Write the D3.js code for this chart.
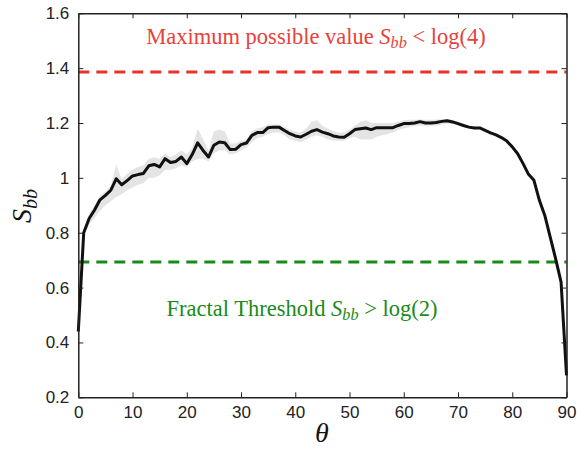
<!DOCTYPE html>
<html>
<head>
<meta charset="utf-8">
<script src="https://cdn.jsdelivr.net/npm/d3@7"></script>
<style>
  html, body { margin: 0; padding: 0; background: #fff; }
  svg { display: block; }
</style>
</head>
<body>
<svg id="chart" width="577" height="450"></svg>
<script>
// Angle θ (degrees) and box-counting entropy S_bb
const theta = d3.range(0, 91);
const sbbMean = [
  0.44, 0.80, 0.852, 0.883, 0.92, 0.936, 0.955, 0.997, 0.975, 0.99,
  1.007, 1.012, 1.016, 1.044, 1.049, 1.04, 1.07, 1.056, 1.06, 1.076,
  1.052, 1.085, 1.128, 1.10, 1.076, 1.119, 1.131, 1.128, 1.103, 1.104,
  1.121, 1.127, 1.155, 1.165, 1.165, 1.183, 1.185, 1.185, 1.173, 1.161,
  1.153, 1.149, 1.159, 1.17, 1.176, 1.167, 1.161, 1.153, 1.149, 1.148,
  1.161, 1.176, 1.179, 1.182, 1.176, 1.183, 1.183, 1.183, 1.183, 1.191,
  1.198, 1.198, 1.20, 1.205, 1.20, 1.20, 1.202, 1.206, 1.208, 1.204,
  1.198, 1.191, 1.185, 1.182, 1.182, 1.173, 1.164, 1.157, 1.147, 1.134,
  1.113, 1.088, 1.052, 1.013, 0.991, 0.918, 0.863, 0.784, 0.705, 0.620,
  0.28
];
const sbbLower = [
  0.44, 0.79, 0.83, 0.855, 0.88, 0.90, 0.915, 0.93, 0.94, 0.955,
  0.965, 0.975, 0.98, 1.0, 1.0, 1.01, 1.03, 1.03, 1.035, 1.045,
  1.04, 1.06, 1.07, 1.07, 1.06, 1.09, 1.10, 1.10, 1.085, 1.09,
  1.10, 1.11, 1.13, 1.145, 1.15, 1.16, 1.165, 1.165, 1.155, 1.14,
  1.135, 1.13, 1.14, 1.15, 1.155, 1.15, 1.14, 1.135, 1.135, 1.135,
  1.145, 1.15, 1.14, 1.14, 1.14, 1.15, 1.155, 1.16, 1.165, 1.175,
  1.18, 1.185, 1.19, 1.19, 1.19, 1.19, 1.19, 1.195, 1.198, 1.196,
  1.19, 1.185, 1.18, 1.177, 1.177, 1.169, 1.16, 1.153, 1.143, 1.13,
  1.11, 1.085, 1.05, 1.01, 0.988, 0.915, 0.86, 0.781, 0.702, 0.617,
  0.28
];
const sbbUpper = [
  0.44, 0.81, 0.87, 0.90, 0.935, 0.95, 0.97, 1.05, 0.995, 1.015,
  1.03, 1.04, 1.045, 1.07, 1.075, 1.07, 1.09, 1.075, 1.085, 1.10,
  1.085, 1.11, 1.18, 1.14, 1.10, 1.17, 1.175, 1.17, 1.125, 1.125,
  1.135, 1.14, 1.17, 1.18, 1.185, 1.195, 1.195, 1.195, 1.185, 1.175,
  1.17, 1.165, 1.18, 1.205, 1.21, 1.19, 1.18, 1.17, 1.165, 1.165,
  1.175, 1.19, 1.205, 1.21, 1.20, 1.20, 1.20, 1.20, 1.20, 1.205,
  1.21, 1.212, 1.212, 1.214, 1.212, 1.212, 1.213, 1.214, 1.215, 1.212,
  1.205, 1.197, 1.19, 1.187, 1.187, 1.177, 1.168, 1.161, 1.151, 1.138,
  1.116, 1.091, 1.055, 1.016, 0.994, 0.921, 0.866, 0.787, 0.708, 0.623,
  0.28
];

// Reference levels
const maxLevel = Math.log(4);
const fractalLevel = Math.log(2);

const xTicks = [0, 10, 20, 30, 40, 50, 60, 70, 80, 90];
const yTicks = [0.2, 0.4, 0.6, 0.8, 1.0, 1.2, 1.4, 1.6];
const yTickLabels = ["0.2", "0.4", "0.6", "0.8", "1", "1.2", "1.4", "1.6"];

const svg = d3.select("#chart");
const plotLeft = 78.3, plotRight = 566.5, plotTop = 13.3, plotBottom = 397.3;

const x = d3.scaleLinear().domain([0, 90]).range([plotLeft, plotRight]);
const y = d3.scaleLinear().domain([0.2, 1.6]).range([plotBottom, plotTop]);

const pts = theta.map((t, i) => ({ t, m: sbbMean[i], lo: sbbLower[i], hi: sbbUpper[i] }));

// Spread band
svg.append("path")
  .datum(pts)
  .attr("fill", "#e4e4e4")
  .attr("d", d3.area().x(d => x(d.t)).y0(d => y(d.lo)).y1(d => y(d.hi)));

// Threshold lines
svg.append("line")
  .attr("x1", plotLeft).attr("x2", plotRight)
  .attr("y1", y(maxLevel)).attr("y2", y(maxLevel))
  .attr("stroke", "#e8322b").attr("stroke-width", 3)
  .attr("stroke-dasharray", "11,7");
svg.append("line")
  .attr("x1", plotLeft).attr("x2", plotRight)
  .attr("y1", y(fractalLevel)).attr("y2", y(fractalLevel))
  .attr("stroke", "#1a8a1a").attr("stroke-width", 3)
  .attr("stroke-dasharray", "11,7");

// Mean curve
svg.append("path")
  .datum(pts)
  .attr("fill", "none")
  .attr("stroke", "#111")
  .attr("stroke-width", 3)
  .attr("stroke-linejoin", "round")
  .attr("d", d3.line().x(d => x(d.t)).y(d => y(d.m)));

// Axes box with inward ticks on every side
const axisColor = "#222";
const tickFmtX = d => String(d);
const tickFmtY = d => yTickLabels[yTicks.indexOf(d)];

const gB = svg.append("g").attr("transform", `translate(0,${plotBottom})`)
  .call(d3.axisBottom(x).tickValues(xTicks).tickSizeInner(-5).tickSizeOuter(0).tickPadding(9).tickFormat(tickFmtX));
const gT = svg.append("g").attr("transform", `translate(0,${plotTop})`)
  .call(d3.axisTop(x).tickValues(xTicks).tickSizeInner(-5).tickSizeOuter(0).tickFormat(""));
const gL = svg.append("g").attr("transform", `translate(${plotLeft},0)`)
  .call(d3.axisLeft(y).tickValues(yTicks).tickSizeInner(-5).tickSizeOuter(0).tickPadding(9).tickFormat(tickFmtY));
const gR = svg.append("g").attr("transform", `translate(${plotRight},0)`)
  .call(d3.axisRight(y).tickValues(yTicks).tickSizeInner(-5).tickSizeOuter(0).tickFormat(""));

[gB, gT, gL, gR].forEach(g => {
  g.select(".domain").attr("stroke", axisColor).attr("stroke-width", 1.5);
  g.selectAll(".tick line").attr("stroke", axisColor).attr("stroke-width", 1);
  g.selectAll("text")
    .attr("font-family", "'Liberation Sans', Arial, sans-serif")
    .attr("font-size", 17)
    .attr("fill", "#222");
});

// Annotations
const serif = "'Liberation Serif', 'Times New Roman', serif";
function sbbLabel(sel, before, after) {
  sel.append("tspan").text(before);
  sel.append("tspan").attr("font-style", "italic").text("S");
  sel.append("tspan").attr("font-style", "italic").attr("font-size", "0.72em").attr("dy", 4).text("bb");
  sel.append("tspan").attr("dy", -4).text(after);
}

svg.append("text")
  .attr("x", 316).attr("y", 44)
  .attr("text-anchor", "middle")
  .attr("font-family", serif).attr("font-size", 22.5)
  .attr("fill", "#e8413a")
  .call(sbbLabel, "Maximum possible value ", " < log(4)");

svg.append("text")
  .attr("x", 302).attr("y", 316)
  .attr("text-anchor", "middle")
  .attr("font-family", serif).attr("font-size", 22.5)
  .attr("fill", "#1a8a1a")
  .call(sbbLabel, "Fractal Threshold ", " > log(2)");

// Axis titles
svg.append("text")
  .attr("x", 322).attr("y", 442)
  .attr("text-anchor", "middle")
  .attr("font-family", serif).attr("font-style", "italic").attr("font-size", 28)
  .attr("fill", "#111")
  .text("θ");

const yt = svg.append("text")
  .attr("transform", "translate(31,206) rotate(-90)")
  .attr("text-anchor", "middle")
  .attr("font-family", serif).attr("font-style", "italic").attr("font-size", 28)
  .attr("fill", "#111");
yt.append("tspan").text("S");
yt.append("tspan").attr("font-size", "0.72em").attr("dy", 6).text("bb");
</script>
</body>
</html>
